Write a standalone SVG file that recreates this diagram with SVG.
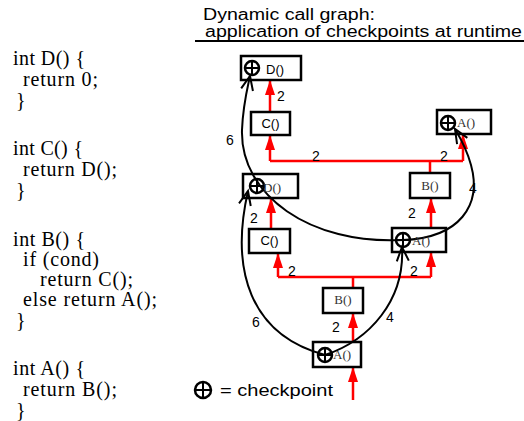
<svg xmlns="http://www.w3.org/2000/svg" width="524" height="421" viewBox="0 0 524 421">
<defs>
<style>
.code{font-family:"Liberation Serif","Times New Roman",serif;font-size:20px;fill:#000}
.ttl{font-family:"Liberation Sans",Arial,sans-serif;font-size:16px;fill:#000}
.box{fill:none;stroke:#000;stroke-width:2.5}
.ss{font-family:"Liberation Sans",Arial,sans-serif;font-size:13px;fill:#000}
.sf{font-family:"Liberation Serif","Times New Roman",serif;font-size:13px;fill:#333}
.lbl{font-family:"Liberation Sans",Arial,sans-serif;font-size:14px;fill:#000}
.red{stroke:#f00;stroke-width:2.5;fill:none}
.blk{stroke:#000;stroke-width:2;fill:none}
</style>
<symbol id="cp" viewBox="-9 -9 18 18" width="18" height="18" overflow="visible">
<circle cx="0" cy="0" r="7" fill="none" stroke="#000" stroke-width="2.5"/>
<line x1="-7" y1="0" x2="7" y2="0" stroke="#000" stroke-width="2"/>
<line x1="0" y1="-7" x2="0" y2="7" stroke="#000" stroke-width="2"/>
</symbol>
<marker id="ra" markerUnits="userSpaceOnUse" markerWidth="15" markerHeight="10" refX="15" refY="5" orient="auto" overflow="visible">
<path d="M0,0 L15,5 L0,10 z" fill="#f00"/>
</marker>
<marker id="ba" markerUnits="userSpaceOnUse" markerWidth="16" markerHeight="14" refX="14" refY="6" orient="auto" overflow="visible">
<path d="M0,0 L14,6 L0,12" fill="none" stroke="#000" stroke-width="2"/>
</marker>
</defs>
<rect width="524" height="421" fill="#fff"/>

<g id="code">
<text class="code" x="13" y="65" textLength="72" lengthAdjust="spacing">int D() {</text>
<text class="code" x="23" y="86" textLength="75" lengthAdjust="spacing">return 0;</text>
<text class="code" x="16" y="107">}</text>
<text class="code" x="13" y="155" textLength="70" lengthAdjust="spacing">int C() {</text>
<text class="code" x="23" y="176" textLength="94" lengthAdjust="spacing">return D();</text>
<text class="code" x="16" y="197">}</text>
<text class="code" x="13" y="246" textLength="72" lengthAdjust="spacing">int B() {</text>
<text class="code" x="23" y="266" textLength="76" lengthAdjust="spacing">if (cond)</text>
<text class="code" x="40" y="286" textLength="93" lengthAdjust="spacing">return C();</text>
<text class="code" x="23" y="306" textLength="134" lengthAdjust="spacing">else return A();</text>
<text class="code" x="16" y="327">}</text>
<text class="code" x="13" y="375" textLength="72" lengthAdjust="spacing">int A() {</text>
<text class="code" x="23" y="396" textLength="94" lengthAdjust="spacing">return B();</text>
<text class="code" x="16" y="417">}</text>
</g>

<g id="title">
<text class="ttl" x="203" y="20" textLength="172" lengthAdjust="spacingAndGlyphs">Dynamic call graph:</text>
<text class="ttl" x="205" y="37" textLength="317" lengthAdjust="spacingAndGlyphs">application of checkpoints at runtime</text>
<line x1="195" y1="41" x2="524" y2="41" stroke="#000" stroke-width="2"/>
</g>

<g id="connectors">
<path class="red" d="M270,112 L270,80" marker-end="url(#ra)"/>
<path class="red" d="M270,161 L463,161"/>
<path class="red" d="M270,161 L270,135" marker-end="url(#ra)"/>
<path class="red" d="M463,161 L463,134" marker-end="url(#ra)"/>
<path class="red" d="M430,161 L430,173"/>
<path class="red" d="M431,228 L431,198" marker-end="url(#ra)"/>
<path class="red" d="M271,229 L271,198" marker-end="url(#ra)"/>
<path class="red" d="M278,277 L431,277"/>
<path class="red" d="M278,277 L278,253" marker-end="url(#ra)"/>
<path class="red" d="M431,277 L431,252" marker-end="url(#ra)"/>
<path class="red" d="M353,277 L353,288"/>
<path class="red" d="M353,342 L353,313" marker-end="url(#ra)"/>
<path class="red" d="M353,400 L353,367" marker-end="url(#ra)"/>

<path class="blk" d="M325,355 C250,335 230,270 248,191" marker-end="url(#ba)"/>
<path class="blk" d="M325,355 C370,340 405,300 402,247" marker-end="url(#ba)"/>
<path class="blk" d="M403,240 C310,245 240,195 242,130 C243,105 247,90 250,76" marker-end="url(#ba)"/>
<path class="blk" d="M403,240 C460,238 482,205 471,165 C467,150 461,139 455,129" marker-end="url(#ba)"/>

<text class="lbl" x="277" y="101">2</text>
<text class="lbl" x="312" y="161">2</text>
<text class="lbl" x="440" y="161">2</text>
<text class="lbl" x="226" y="145">6</text>
<text class="lbl" x="469" y="193">4</text>
<text class="lbl" x="250" y="223">2</text>
<text class="lbl" x="408" y="218">2</text>
<text class="lbl" x="288" y="276">2</text>
<text class="lbl" x="410" y="276">2</text>
<text class="lbl" x="332" y="332">2</text>
<text class="lbl" x="252" y="327">6</text>
<text class="lbl" x="386" y="322">4</text>
</g>

<g id="D_top">
<rect class="box" x="241" y="56" width="60" height="24"/>
<use href="#cp" x="243" y="59"/>
<text class="ss" x="266" y="74">D()</text>
</g>
<g id="C_top">
<rect class="box" x="251" y="112" width="39" height="23"/>
<text class="ss" x="270.5" y="128" text-anchor="middle">C()</text>
</g>
<g id="A_top">
<rect class="box" x="437" y="110" width="54" height="24"/>
<use href="#cp" x="439" y="114"/>
<text class="sf" x="457" y="127">A()</text>
</g>
<g id="B_mid">
<rect class="box" x="410" y="173" width="40" height="25"/>
<text class="sf" x="430" y="190" text-anchor="middle">B()</text>
</g>
<g id="D_mid">
<rect class="box" x="243" y="174" width="55" height="24"/>
<use href="#cp" x="248" y="177"/>
<text class="sf" x="263" y="192">D()</text>
</g>
<g id="C_mid">
<rect class="box" x="249" y="229" width="41" height="24"/>
<text class="ss" x="269.5" y="245" text-anchor="middle">C()</text>
</g>
<g id="A_mid">
<rect class="box" x="392" y="228" width="54" height="24"/>
<use href="#cp" x="394" y="231"/>
<text class="sf" x="412" y="245">A()</text>
</g>
<g id="B_low">
<rect class="box" x="323" y="288" width="40" height="25"/>
<text class="sf" x="343" y="304" text-anchor="middle">B()</text>
</g>
<g id="A_low">
<rect class="box" x="313" y="342" width="48" height="25"/>
<use href="#cp" x="316" y="346"/>
<text class="sf" x="333" y="359">A()</text>
</g>

<g id="legend">
<circle cx="203" cy="390" r="8" fill="none" stroke="#000" stroke-width="2.5"/>
<line x1="195" y1="390" x2="211" y2="390" stroke="#000" stroke-width="2"/>
<line x1="203" y1="382" x2="203" y2="398" stroke="#000" stroke-width="2"/>
<text class="ttl" x="220" y="396" font-size="17" textLength="113" lengthAdjust="spacingAndGlyphs">= checkpoint</text>
</g>
</svg>
